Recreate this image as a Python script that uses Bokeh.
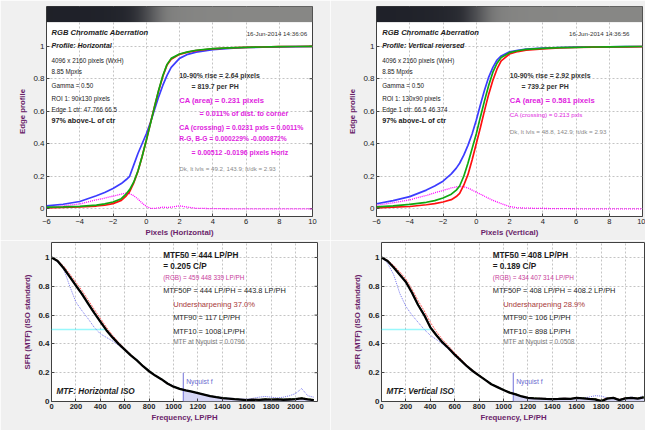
import numpy as np
from bokeh.plotting import figure
from bokeh.layouts import column, row
from bokeh.models import FixedTicker, CustomJSTickFormatter
from bokeh.core.properties import value
from bokeh.embed import file_html
from bokeh.resources import INLINE

FONT = "Liberation Sans"

# ---------------- Edge profiles (pixels) ----------------
edge_x = [-6, -5, -4, -3, -2.5, -2, -1.5, -1.2, -1, -0.75, -0.5, -0.25, 0, 0.25, 0.5,
          0.75, 1, 1.25, 1.5, 2, 2.5, 3, 4, 5, 6, 7, 8, 9, 10]

# Horizontal
h_red = [0.005, 0.008, 0.011, 0.017, 0.022, 0.032, 0.052, 0.080, 0.105, 0.160, 0.230, 0.320, 0.420,
         0.525, 0.630, 0.728, 0.815, 0.885, 0.920, 0.950, 0.963, 0.973, 0.984, 0.990, 0.993, 0.995,
         0.997, 0.998, 0.999]
h_green = [0.010, 0.012, 0.015, 0.022, 0.030, 0.042, 0.062, 0.092, 0.118, 0.165, 0.232, 0.322, 0.420,
           0.522, 0.630, 0.730, 0.820, 0.888, 0.925, 0.952, 0.965, 0.975, 0.985, 0.990, 0.993, 0.995,
           0.997, 0.998, 0.999]
h_blue = [0.018, 0.028, 0.045, 0.080, 0.100, 0.125, 0.155, 0.180, 0.200, 0.270, 0.340, 0.400, 0.460,
          0.530, 0.610, 0.690, 0.760, 0.820, 0.870, 0.925, 0.950, 0.963, 0.978, 0.987, 0.992, 0.994,
          0.996, 0.997, 0.998]
h_ca = [0.010, 0.018, 0.030, 0.055, 0.065, 0.078, 0.090, 0.097, 0.093, 0.080, 0.060, 0.035, 0.015,
        0.003, 0.002, 0.006, 0.010, 0.008, 0.010, 0.018, 0.010, 0.003, 0.001, 0.0, 0.0, 0.0,
        0.0, 0.0, 0.0]

# Vertical reversed
v_red = [0.006, 0.010, 0.014, 0.025, 0.032, 0.042, 0.056, 0.075, 0.095, 0.145, 0.210, 0.300, 0.400,
         0.500, 0.605, 0.705, 0.790, 0.860, 0.910, 0.952, 0.967, 0.975, 0.984, 0.989, 0.992, 0.994,
         0.995, 0.996, 0.997]
v_green = [0.012, 0.018, 0.027, 0.040, 0.050, 0.066, 0.090, 0.115, 0.140, 0.200, 0.280, 0.370, 0.460,
           0.565, 0.665, 0.760, 0.840, 0.895, 0.930, 0.960, 0.972, 0.980, 0.987, 0.991, 0.993, 0.995,
           0.996, 0.997, 0.998]
v_blue = [0.031, 0.050, 0.075, 0.115, 0.140, 0.170, 0.215, 0.250, 0.280, 0.330, 0.390, 0.460, 0.545,
          0.640, 0.730, 0.810, 0.870, 0.915, 0.940, 0.965, 0.975, 0.982, 0.988, 0.992, 0.994, 0.995,
          0.996, 0.997, 0.998]
v_ca = [0.022, 0.037, 0.055, 0.082, 0.098, 0.113, 0.128, 0.135, 0.137, 0.135, 0.128, 0.115, 0.102,
        0.090, 0.077, 0.064, 0.052, 0.042, 0.032, 0.014, 0.006, 0.004, 0.002, 0.001, 0.0, 0.0,
        0.0, 0.0, 0.0]

# ---------------- MTF (LP/PH) ----------------
freq = [0, 50, 100, 150, 200, 250, 300, 350, 400, 450, 500, 550, 600, 650, 700, 750, 800, 850,
        900, 950, 1000, 1050, 1100, 1150, 1200, 1250, 1300, 1350, 1400, 1450, 1500, 1550, 1600,
        1650, 1700, 1750, 1800, 1850, 1900, 1950, 2000, 2050, 2100, 2150]

mh_black = [1.0, 0.975, 0.925, 0.865, 0.805, 0.745, 0.680, 0.615, 0.555, 0.495, 0.445, 0.400, 0.360,
            0.320, 0.285, 0.245, 0.210, 0.180, 0.155, 0.125, 0.103, 0.088, 0.077, 0.068, 0.058,
            0.048, 0.038, 0.030, 0.024, 0.020, 0.016, 0.013, 0.010, 0.013, 0.011, 0.014, 0.013,
            0.015, 0.012, 0.014, 0.016, 0.022, 0.015, 0.010]
mh_red = [1.0, 0.980, 0.940, 0.885, 0.828, 0.770, 0.705, 0.640, 0.578, 0.515, 0.460, 0.410, 0.368,
          0.325, 0.288, 0.248, 0.212, 0.182, 0.156, 0.127, 0.104, 0.089, 0.078, 0.068, 0.058,
          0.048, 0.039, 0.031, 0.025, 0.020, 0.017, 0.014, 0.012, 0.015, 0.013, 0.016, 0.015,
          0.017, 0.014, 0.016, 0.018, 0.025, 0.017, 0.012]
mh_green = [1.0, 0.977, 0.928, 0.868, 0.810, 0.750, 0.684, 0.618, 0.557, 0.497, 0.446, 0.401, 0.361,
            0.321, 0.286, 0.247, 0.212, 0.181, 0.156, 0.126, 0.104, 0.089, 0.078, 0.069, 0.059,
            0.049, 0.039, 0.031, 0.025, 0.021, 0.017, 0.014, 0.012, 0.014, 0.013, 0.016, 0.015,
            0.016, 0.014, 0.016, 0.018, 0.024, 0.017, 0.012]
mh_blue = [1.0, 0.970, 0.920, 0.800, 0.690, 0.630, 0.575, 0.515, 0.470, 0.445, 0.420, 0.390, 0.355,
           0.320, 0.285, 0.248, 0.212, 0.182, 0.157, 0.128, 0.105, 0.090, 0.079, 0.070, 0.060,
           0.050, 0.041, 0.033, 0.028, 0.024, 0.020, 0.018, 0.016, 0.022, 0.030, 0.035, 0.030,
           0.025, 0.030, 0.040, 0.055, 0.090, 0.040, 0.030]

mv_black = [1.0, 0.975, 0.930, 0.880, 0.830, 0.755, 0.670, 0.600, 0.515, 0.460, 0.410, 0.370, 0.325,
            0.285, 0.245, 0.210, 0.180, 0.150, 0.120, 0.100, 0.080, 0.062, 0.050, 0.035, 0.025,
            0.022, 0.020, 0.018, 0.017, 0.018, 0.020, 0.018, 0.025, 0.022, 0.018, 0.015, 0.002,
            0.020, 0.025, 0.010, 0.022, 0.025, 0.020, 0.028]
mv_red = [1.0, 0.980, 0.945, 0.900, 0.850, 0.780, 0.700, 0.630, 0.550, 0.485, 0.430, 0.385, 0.338,
          0.295, 0.252, 0.215, 0.184, 0.153, 0.122, 0.102, 0.082, 0.064, 0.052, 0.037, 0.027,
          0.024, 0.022, 0.020, 0.019, 0.020, 0.022, 0.020, 0.027, 0.024, 0.020, 0.020, 0.010,
          0.024, 0.028, 0.014, 0.026, 0.028, 0.024, 0.032]
mv_green = [1.0, 0.976, 0.932, 0.882, 0.833, 0.758, 0.673, 0.602, 0.518, 0.462, 0.412, 0.371, 0.326,
            0.286, 0.246, 0.211, 0.181, 0.151, 0.121, 0.101, 0.081, 0.063, 0.051, 0.036, 0.026,
            0.023, 0.021, 0.019, 0.018, 0.019, 0.021, 0.019, 0.026, 0.023, 0.019, 0.018, 0.006,
            0.022, 0.026, 0.012, 0.024, 0.027, 0.022, 0.030]
mv_blue = [1.0, 0.960, 0.880, 0.750, 0.660, 0.600, 0.550, 0.500, 0.460, 0.430, 0.400, 0.360, 0.320,
           0.285, 0.250, 0.212, 0.182, 0.152, 0.122, 0.102, 0.082, 0.064, 0.052, 0.037, 0.027,
           0.024, 0.022, 0.020, 0.019, 0.020, 0.022, 0.020, 0.027, 0.026, 0.030, 0.040, 0.038,
           0.025, 0.028, 0.015, 0.026, 0.030, 0.025, 0.040]

edge_ticks_x = [-6, -4, -2, 0, 2, 4, 6, 8, 10]
prof_ticks_y = [0, 0.2, 0.4, 0.6, 0.8, 1]
mtf_ticks_x = [0, 200, 400, 600, 800, 1000, 1200, 1400, 1600, 1800, 2000]

nyquist = 1080
h_mtf50, v_mtf50 = 444, 408
h_nyq_mtf, v_nyq_mtf = 0.0796, 0.0508

AXIS_COLOR = "#6a1f6a"
MAGENTA = "#e01ee0"
DARK = "#1c1c1c"


def style(p, xticks, yticks, xlabel, ylabel, xmax, bold_ticks=False, right_ticks=False):
    p.xaxis.ticker = FixedTicker(ticks=xticks)
    p.yaxis.ticker = FixedTicker(ticks=yticks)
    p.yaxis.formatter = CustomJSTickFormatter(code="return String(Number(tick.toFixed(1)));")
    p.xaxis.axis_label = xlabel
    p.yaxis.axis_label = ylabel
    for ax in (p.xaxis[0], p.yaxis[0]):
        ax.major_tick_in = 3
        ax.major_tick_out = 0
        ax.minor_tick_line_color = None
        ax.axis_line_color = None
        ax.major_tick_line_color = "#444444"
        ax.major_label_text_font = FONT
        ax.major_label_text_color = "#222222"
        ax.major_label_text_font_style = "bold" if bold_ticks else "normal"
        ax.axis_label_text_font = FONT
        ax.axis_label_text_font_style = "bold"
        ax.axis_label_text_color = AXIS_COLOR
        ax.major_label_standoff = 2
    p.xaxis.major_label_text_font_size = "7.5px"
    p.yaxis.major_label_text_font_size = "8px"
    p.xaxis.axis_label_text_font_size = "7.8px"
    p.yaxis.axis_label_text_font_size = "7.8px"
    p.xaxis.axis_label_standoff = 1
    p.yaxis.axis_label_standoff = 3
    for g in (p.xgrid[0], p.ygrid[0]):
        g.grid_line_color = "#c4c4c4"
        g.grid_line_dash = "2 2"
        g.grid_line_width = 1
    p.outline_line_color = "#404040"
    p.outline_line_width = 1
    p.background_fill_color = "white"
    p.border_fill_color = "#f0f0f0"
    if right_ticks:
        # inward tick marks on the right edge of the box
        p.ray(x=[xmax] * len(yticks), y=yticks, length=3, length_units="screen",
              angle=np.pi, line_color="#444444", line_width=1)


def txt(p, x, y, s, size, color=DARK, style_="normal", align="left"):
    p.text(x=[x], y=[y], text=[s], text_font=value(FONT), text_font_size=value(f"{size}px"),
           text_font_style=style_, text_color=color, text_align=align, text_baseline="middle")


def gradient(p, prof):
    n = 266
    gx = np.linspace(-6, 10, n)
    gv = np.interp(gx, edge_x, prof)
    img = np.zeros((1, n), dtype=np.uint32)
    view = img.view(dtype=np.uint8).reshape((1, n, 4))
    view[0, :, 0] = (30 + gv * 106).astype(np.uint8)
    view[0, :, 1] = (32 + gv * 104).astype(np.uint8)
    view[0, :, 2] = (40 + gv * 94).astype(np.uint8)
    view[0, :, 3] = 255
    p.image_rgba(image=[img], x=-6, y=1.148, dw=16, dh=0.12)


def edge_fig(width, mbl, mbr, prof_r, prof_g, prof_b, prof_ca, xlabel, right_ticks):
    p = figure(width=width, height=240, x_range=(-6, 10), y_range=(-0.0474, 1.244),
               output_backend="svg", toolbar_location=None,
               min_border_left=mbl, min_border_right=mbr, min_border_top=6, min_border_bottom=24)
    style(p, edge_ticks_x, prof_ticks_y, xlabel, "Edge profile", 10, right_ticks=right_ticks)
    gradient(p, prof_g)
    p.line(edge_x, prof_ca, line_color="#ff00ff", line_width=1.3, line_dash="1 1")
    p.line(edge_x, prof_b, line_color="#3c3cff", line_width=1.7)
    p.line(edge_x, prof_r, line_color="#ff1010", line_width=1.7)
    p.line(edge_x, prof_g, line_color="#10a810", line_width=1.7)
    return p


def mtf_fig(width, mbl, mbr, xmax, blk, red, grn, blu, mtf50, nyq_val, title, right_ticks):
    p = figure(width=width, height=190, x_range=(0, xmax), y_range=(0, 1.104),
               output_backend="svg", toolbar_location=None,
               min_border_left=mbl, min_border_right=mbr, min_border_top=2, min_border_bottom=29)
    style(p, mtf_ticks_x, prof_ticks_y, "Frequency, LP/PH", "SFR (MTF) (ISO standard)", xmax,
          bold_ticks=True, right_ticks=right_ticks)
    f = np.array(freq)
    b = np.array(blk)
    sel = f > nyquist
    sx = np.concatenate([[nyquist], f[sel]])
    sy = np.concatenate([[nyq_val], b[sel]])
    p.varea(x=sx, y1=0, y2=sy, fill_color="#d6d6f6")
    p.segment(x0=[nyquist], y0=[0], x1=[nyquist], y1=[0.2], line_color="#7070d8", line_width=1)
    p.segment(x0=[0], y0=[0.5], x1=[mtf50], y1=[0.5], line_color="#30f0f8", line_width=1.3,
              line_dash="1 1")
    p.line(freq, blu, line_color="#7878ee", line_width=1, line_dash="1 1")
    p.line(freq, red, line_color="#ff5a5a", line_width=1, line_dash="2 1")
    p.line(freq, grn, line_color="#20b020", line_width=1.2, line_dash="3 1")
    p.line(freq, blk, line_color="black", line_width=2.3)
    txt(p, 41, 0.069, title, 8.2, DARK, "bold italic")
    txt(p, nyquist + 24, 0.139, "Nyquist f", 6.8, "#6a6ad0")
    return p


# ---- top-left ----
p1 = edge_fig(330, 46, 18, h_red, h_green, h_blue, h_ca, "Pixels (Horizontal)", True)
txt(p1, -5.70, 1.082, "RGB Chromatic Aberration", 7.6, DARK, "bold italic")
txt(p1, 9.68, 1.080, "16-Jun-2014 14:36:06", 6.2, "#333333", "normal", "right")
txt(p1, -5.70, 1.004, "Profile: Horizontal", 7.0, DARK, "bold italic")
txt(p1, -5.70, 0.910, "4096 x 2160 pixels (WxH)", 6.3, "#222222")
txt(p1, -5.70, 0.8425, "8.85 Mpxls", 6.3, "#222222")
txt(p1, -5.70, 0.760, "Gamma = 0.50", 6.3, "#222222")
txt(p1, -5.70, 0.6765, "ROI 1: 90x130 pixels", 6.3, "#222222")
txt(p1, -5.70, 0.6125, "Edge 1 ctr: 47.766  66.5", 6.3, "#222222")
txt(p1, -5.70, 0.543, "97% above-L of ctr", 7.2, DARK, "bold")
txt(p1, 1.98, 0.8217, "10-90% rise = 2.64 pixels", 6.9, "#333333", "bold")
txt(p1, 2.72, 0.752, "= 819.7 per PH", 6.9, "#333333", "bold")
txt(p1, 1.98, 0.664, "CA (area) = 0.231 pixels", 7.6, MAGENTA, "bold")
txt(p1, 3.20, 0.584, "= 0.011% of dist. to corner", 7.2, MAGENTA, "bold")
txt(p1, 1.98, 0.500, "CA (crossing) = 0.0231 pxls = 0.0011%", 6.9, MAGENTA, "bold")
txt(p1, 1.98, 0.4317, "R-G, B-G = 0.000229%  -0.000872%", 6.7, MAGENTA, "bold")
txt(p1, 2.72, 0.3444, "= 0.00512  -0.0196 pixels Horiz", 6.9, MAGENTA, "bold")
txt(p1, 1.98, 0.246, "Dk, lt lvls = 49.2, 143.9;  lt/dk = 2.93", 6.2, "#8a8a8a")

# ---- top-right ----
p2 = edge_fig(315, 46, 3, v_red, v_green, v_blue, v_ca, "Pixels (Vertical)", False)
txt(p2, -5.66, 1.082, "RGB Chromatic Aberration", 7.6, DARK, "bold italic")
txt(p2, 9.22, 1.080, "16-Jun-2014 14:36:56", 6.2, "#333333", "normal", "right")
txt(p2, -5.66, 1.004, "Profile: Vertical reversed", 7.0, DARK, "bold italic")
txt(p2, -5.66, 0.910, "4096 x 2160 pixels (WxH)", 6.3, "#222222")
txt(p2, -5.66, 0.8425, "8.85 Mpxls", 6.3, "#222222")
txt(p2, -5.66, 0.760, "Gamma = 0.50", 6.3, "#222222")
txt(p2, -5.66, 0.6765, "ROI 1: 130x90 pixels", 6.3, "#222222")
txt(p2, -5.66, 0.6125, "Edge 1 ctr: 66.5  46.374", 6.3, "#222222")
txt(p2, -5.66, 0.543, "97% above-L of ctr", 7.2, DARK, "bold")
txt(p2, 2.02, 0.8217, "10-90% rise = 2.92 pixels", 6.9, "#333333", "bold")
txt(p2, 2.72, 0.752, "= 739.2 per PH", 6.9, "#333333", "bold")
txt(p2, 2.02, 0.664, "CA (area) = 0.581 pixels", 7.6, MAGENTA, "bold")
txt(p2, 2.02, 0.578, "CA (crossing) = 0.213 pxls", 6.2, MAGENTA)
txt(p2, 2.02, 0.4755, "Dk, lt lvls = 48.8, 142.9;  lt/dk = 2.93", 6.2, "#8a8a8a")

# ---- bottom-left ----
p3 = mtf_fig(330, 51, 13, 2180, mh_black, mh_red, mh_green, mh_blue, h_mtf50, h_nyq_mtf,
             "MTF: Horizontal ISO", True)
txt(p3, 915, 1.014, "MTF50 = 444 LP/PH", 8.2, DARK, "bold")
txt(p3, 915, 0.9375, "= 0.205 C/P", 8.2, DARK, "bold")
txt(p3, 915, 0.861, "(RGB) = 459  448  339 LP/PH", 6.4, "#c8409b")
txt(p3, 915, 0.769, "MTF50P = 444 LP/PH = 443.8 LP/PH", 7.4, DARK)
txt(p3, 997, 0.6715, "Undersharpening 37.0%", 7.6, "#a83838")
txt(p3, 997, 0.581, "MTF90 = 117 LP/PH", 7.4, DARK)
txt(p3, 997, 0.488, "MTF10 = 1008 LP/PH", 7.4, DARK)
txt(p3, 997, 0.4167, "MTF at Nyquist = 0.0796", 6.5, "#777777")

# ---- bottom-right ----
p4 = mtf_fig(315, 51, 0, 2164, mv_black, mv_red, mv_green, mv_blue, v_mtf50, v_nyq_mtf,
             "MTF: Vertical ISO", False)
txt(p4, 912, 1.014, "MTF50 = 408 LP/PH", 8.2, DARK, "bold")
txt(p4, 912, 0.9375, "= 0.189 C/P", 8.2, DARK, "bold")
txt(p4, 912, 0.861, "(RGB) = 434  407  314 LP/PH", 6.4, "#c8409b")
txt(p4, 912, 0.769, "MTF50P = 408 LP/PH = 408.2 LP/PH", 7.4, DARK)
txt(p4, 997, 0.6715, "Undersharpening 28.9%", 7.6, "#a83838")
txt(p4, 997, 0.581, "MTF90 = 106 LP/PH", 7.4, DARK)
txt(p4, 997, 0.488, "MTF10 = 898 LP/PH", 7.4, DARK)
txt(p4, 997, 0.4167, "MTF at Nyquist = 0.0508", 6.5, "#777777")

layout = column(row(p1, p2, spacing=0), row(p3, p4, spacing=0), spacing=0)

open("out.html", "w").write(file_html(layout, INLINE))
